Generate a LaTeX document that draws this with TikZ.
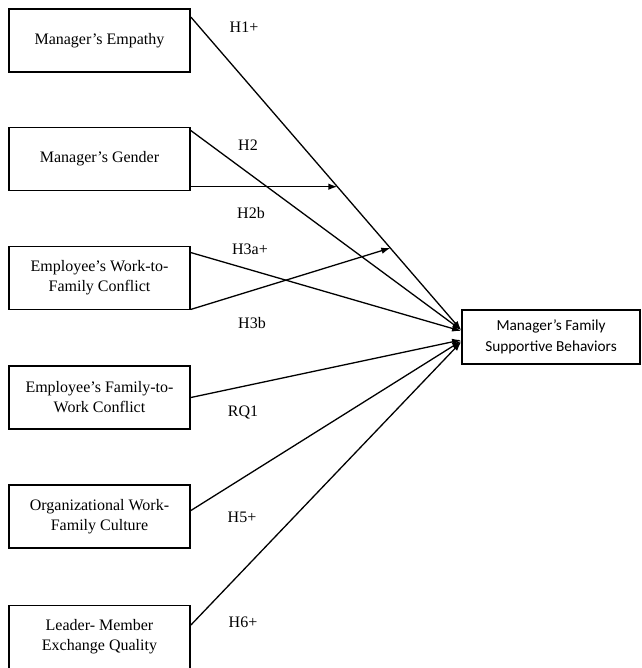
\documentclass[tikz,border=0pt]{standalone}
\usepackage{fontspec}
\setmainfont{Liberation Serif}
\newfontfamily\calibfont[Ligatures=TeX]{Carlito}
\usepackage{tikz}
\usetikzlibrary{arrows.meta}

\tikzset{
  varbox/.style={draw, line width=1.8pt, minimum width=181pt, minimum height=63pt,
    align=center, inner sep=2pt, font=\fontsize{16}{20}\selectfont},
  outbox/.style={draw, line width=1.8pt, minimum width=178pt, minimum height=54pt,
    align=center, inner sep=2pt, font=\calibfont\fontsize{15.3}{20.5}\selectfont},
  hlabel/.style={font=\fontsize{16}{20}\selectfont},
  link/.style={line width=1.3pt, -{Latex[length=9pt,width=6.5pt]}}
}

\begin{document}
\begin{tikzpicture}[x=1pt,y=-1pt]
    \useasboundingbox (0,0) rectangle (641,668);

    % left column
    \foreach \n/\y/\t in {emp/40.5/{Manager's Empathy},
                          gen/159/{Manager's Gender},
                          wfc/278/{Employee's Work-to-\\Family Conflict},
                          fwc/397.5/{Employee's Family-to-\\Work Conflict},
                          cul/516.5/{Organizational Work-\\Family Culture},
                          lmx/637/{Leader- Member\\Exchange Quality}}
      \node [varbox] (\n) at (99.5,\y) {\t};

    \node [outbox] (mfsb) at (551,337) {Manager's Family\\Supportive Behaviors};

    % direct paths
    \draw [link] ([yshift=-9pt]emp.north east) -- ([yshift=7pt]mfsb.west)
      coordinate [pos=0.542] (modgen)
      coordinate [pos=0.738] (modwfc);
    \draw [link] ([yshift=-4pt]gen.north east) -- ([yshift=7pt]mfsb.west);
    \draw [link] ([yshift=-7pt]wfc.north east) -- ([yshift=6pt]mfsb.west);
    \draw [link] (fwc.east) -- ([yshift=-3pt]mfsb.west);
    \draw [link] ([yshift=6pt]cul.east) -- ([yshift=-4pt]mfsb.west);
    \draw [link] ([yshift=12pt]lmx.east) -- ([yshift=-5pt]mfsb.west);

    % moderation
    \draw [link] (modgen -| gen.east) -- (modgen);
    \draw [link] ([yshift=1pt]wfc.south east) -- (modwfc);

    % labels
    \foreach \n/\x/\y/\t in {lh1/244/27/{H1+}, lh2/248/145/{H2}, lh2b/251/213/{H2b},
                             lh3a/250/249/{H3a+}, lh3b/252/323/{H3b}, lrq/243/412/{RQ1},
                             lh5/242/517/{H5+}, lh6/243/622/{H6+}}
      \node [hlabel] (\n) at (\x,\y) {\t};
\end{tikzpicture}
\end{document}
